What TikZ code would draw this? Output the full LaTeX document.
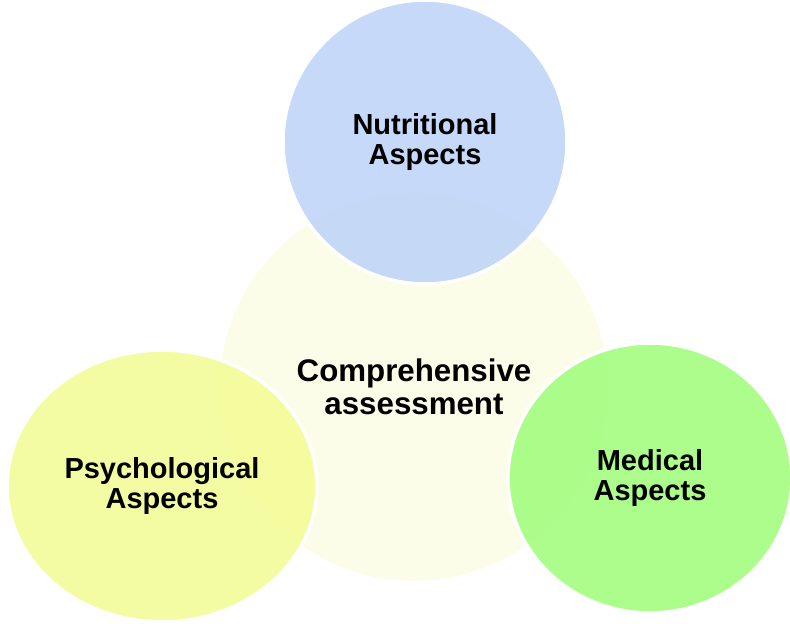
\documentclass[tikz,border=0pt]{standalone}
\usepackage{fontspec}
\setmainfont{Liberation Sans}
\usepackage{tikz}
\usetikzlibrary{shapes.geometric}

\definecolor{centrefill}{RGB}{252,253,232}
\definecolor{nutrfill}{RGB}{190,212,247}
\definecolor{psychfill}{RGB}{243,252,150}
\definecolor{medfill}{RGB}{160,253,124}

\tikzset{
    aspect/.style={ellipse, draw=white, line width=2pt, fill opacity=0.88,
        text opacity=1, inner sep=0pt, align=center,
        font=\fontsize{16.5}{17}\selectfont\bfseries},
}

\begin{document}
\begin{tikzpicture}[x=0.02cm, y=0.02cm]
    \useasboundingbox (0,0) rectangle (790,623);
    \node[circle, fill=centrefill, minimum size=7.76cm, inner sep=0pt, align=center,
        font=\fontsize{17.8}{18.5}\selectfont\bfseries] (assess) at (414, 236)
        {Comprehensive\\assessment};
    \node[aspect, fill=nutrfill, minimum width=5.68cm, minimum height=5.68cm] (nutr)
        at (425, 481) {Nutritional\\Aspects};
    \node[aspect, fill=psychfill, minimum width=6.2cm, minimum height=5.44cm] (psych)
        at (162, 137) {Psychological\\Aspects};
    \node[aspect, fill=medfill, minimum width=5.68cm, minimum height=5.4cm] (med)
        at (650, 145) {Medical\\Aspects};
\end{tikzpicture}
\end{document}
